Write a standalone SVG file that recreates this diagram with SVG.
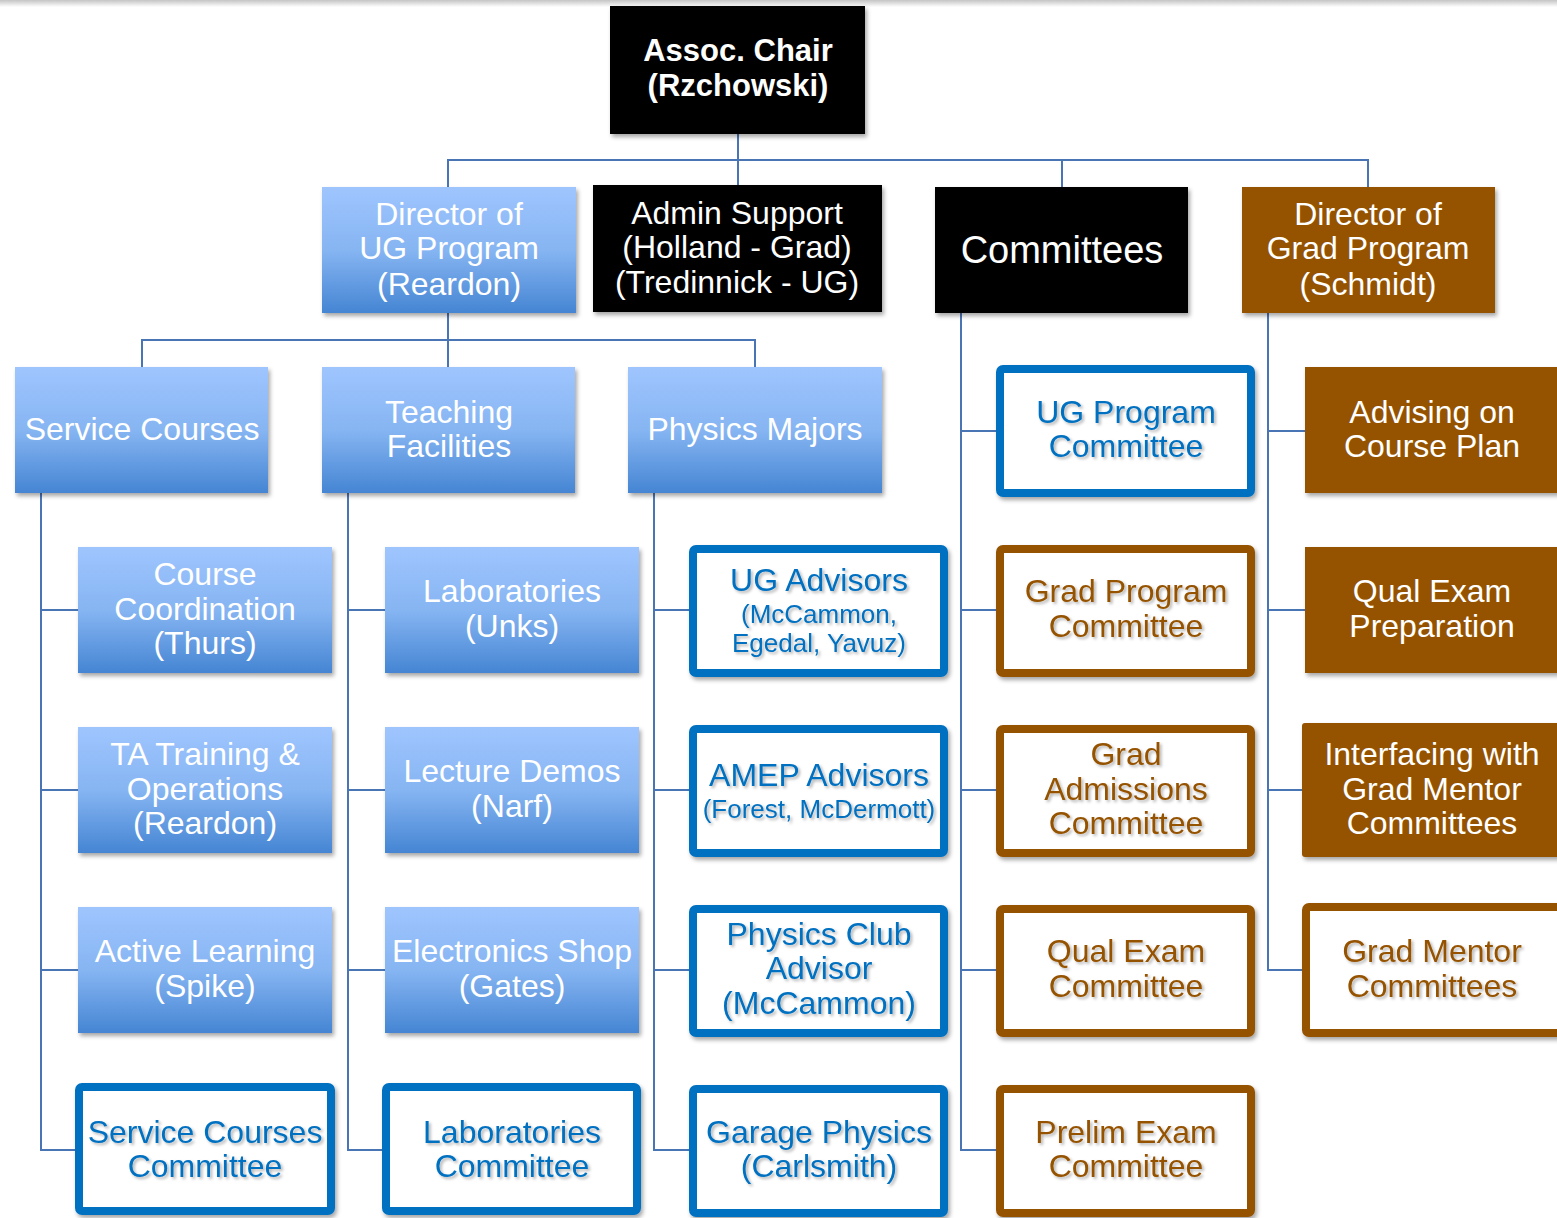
<svg xmlns="http://www.w3.org/2000/svg" width="1557" height="1218" viewBox="0 0 1557 1218">
<defs>
<linearGradient id="topband" x1="0" y1="0" x2="0" y2="1"><stop offset="0" stop-color="#c4c4c4"/><stop offset="1" stop-color="#ffffff"/></linearGradient>
<linearGradient id="blueg" x1="0" y1="0" x2="0" y2="1"><stop offset="0" stop-color="#9fc5fe"/><stop offset="0.5" stop-color="#86b5f2"/><stop offset="1" stop-color="#4585d3"/></linearGradient>
<filter id="sh" x="-10%" y="-10%" width="125%" height="130%"><feDropShadow dx="2" dy="3" stdDeviation="2" flood-color="#000" flood-opacity="0.35"/></filter>
<filter id="tsh" x="-10%" y="-20%" width="125%" height="150%"><feDropShadow dx="2" dy="2" stdDeviation="1.5" flood-color="#000" flood-opacity="0.3"/></filter>
</defs>
<style>
text{font-family:"Liberation Sans",Arial,sans-serif;font-size:32px;text-anchor:middle}
.w{fill:#ffffff}
.bold{font-weight:bold;font-size:31px}
.blk{fill:#000000}
.grad{fill:url(#blueg)}
.brn{fill:#955200}
.bb{fill:#ffffff;stroke:#0070c0;stroke-width:8}
.bn{fill:#ffffff;stroke:#955200;stroke-width:8}
.tb{fill:#0070c0}
.tn{fill:#955200}
.sm{font-size:26px}
.conn{fill:none;stroke:#4a75b5;stroke-width:2}
</style>
<rect x="0" y="0" width="1557" height="7" fill="url(#topband)"/>
<g id="connectors" class="conn">
<path d="M738 134V160M448 187V160H1368V187M738 160V185M1062 160V187"/>
<path d="M448 313V340M142 367V340H755V367M448 340V367"/>
<path d="M41 493V1150H78M41 610H78M41 790H78M41 970H78"/>
<path d="M348 493V1150H385M348 610H385M348 790H385M348 970H385"/>
<path d="M654 493V1150H690M654 610H690M654 790H690M654 970H690"/>
<path d="M961 313V1150H997M961 431H997M961 610H997M961 790H997M961 970H997"/>
<path d="M1268 313V970H1305M1268 431H1305M1268 610H1305M1268 790H1305"/>
</g>
<g id="assoc-chair"><rect x="610" y="6" width="255" height="128" class="blk" filter="url(#sh)"/><text class="w bold" x="738" y="61">Assoc. Chair</text><text class="w bold" x="738" y="96">(Rzchowski)</text></g>
<g id="dir-ug"><rect x="322" y="187" width="254" height="126" class="grad" filter="url(#sh)"/><text class="w" x="449" y="225">Director of</text><text class="w" x="449" y="259">UG Program</text><text class="w" x="449" y="295">(Reardon)</text></g>
<g id="admin"><rect x="593" y="185" width="289" height="127" class="blk" filter="url(#sh)"/><text class="w" x="737" y="224">Admin Support</text><text class="w" x="737" y="258">(Holland - Grad)</text><text class="w" x="737" y="293">(Tredinnick - UG)</text></g>
<g id="committees"><rect x="935" y="187" width="253" height="126" class="blk" filter="url(#sh)"/><text class="w" x="1062" y="263" style="font-size:38px">Committees</text></g>
<g id="dir-grad"><rect x="1242" y="187" width="253" height="126" class="brn" filter="url(#sh)"/><text class="w" x="1368" y="225">Director of</text><text class="w" x="1368" y="259">Grad Program</text><text class="w" x="1368" y="295">(Schmidt)</text></g>
<g id="service-courses"><rect x="15" y="367" width="253" height="126" class="grad" filter="url(#sh)"/><text class="w" x="142" y="440">Service Courses</text></g>
<g id="teaching-facilities"><rect x="322" y="367" width="253" height="126" class="grad" filter="url(#sh)"/><text class="w" x="449" y="423">Teaching</text><text class="w" x="449" y="457">Facilities</text></g>
<g id="physics-majors"><rect x="628" y="367" width="254" height="126" class="grad" filter="url(#sh)"/><text class="w" x="755" y="440">Physics Majors</text></g>
<g id="course-coord"><rect x="78" y="547" width="254" height="126" class="grad" filter="url(#sh)"/><text class="w" x="205" y="585">Course</text><text class="w" x="205" y="620">Coordination</text><text class="w" x="205" y="654">(Thurs)</text></g>
<g id="ta-training"><rect x="78" y="727" width="254" height="126" class="grad" filter="url(#sh)"/><text class="w" x="205" y="765">TA Training &amp;</text><text class="w" x="205" y="800">Operations</text><text class="w" x="205" y="834">(Reardon)</text></g>
<g id="active-learning"><rect x="78" y="907" width="254" height="126" class="grad" filter="url(#sh)"/><text class="w" x="205" y="962">Active Learning</text><text class="w" x="205" y="997">(Spike)</text></g>
<g id="service-courses-committee"><rect x="79" y="1087" width="252" height="124" rx="3" class="bb" filter="url(#sh)"/><g filter="url(#tsh)"><text class="tb" x="205" y="1143">Service Courses</text><text class="tb" x="205" y="1177">Committee</text></g></g>
<g id="laboratories"><rect x="385" y="547" width="254" height="126" class="grad" filter="url(#sh)"/><text class="w" x="512" y="602">Laboratories</text><text class="w" x="512" y="637">(Unks)</text></g>
<g id="lecture-demos"><rect x="385" y="727" width="254" height="126" class="grad" filter="url(#sh)"/><text class="w" x="512" y="782">Lecture Demos</text><text class="w" x="512" y="817">(Narf)</text></g>
<g id="electronics-shop"><rect x="385" y="907" width="254" height="126" class="grad" filter="url(#sh)"/><text class="w" x="512" y="962">Electronics Shop</text><text class="w" x="512" y="997">(Gates)</text></g>
<g id="laboratories-committee"><rect x="386" y="1087" width="251" height="124" rx="3" class="bb" filter="url(#sh)"/><g filter="url(#tsh)"><text class="tb" x="512" y="1143">Laboratories</text><text class="tb" x="512" y="1177">Committee</text></g></g>
<g id="ug-advisors"><rect x="693" y="549" width="251" height="124" rx="3" class="bb" filter="url(#sh)"/><g filter="url(#tsh)"><text class="tb" x="819" y="591">UG Advisors</text><text class="tb sm" x="819" y="623">(McCammon,</text><text class="tb sm" x="819" y="652">Egedal, Yavuz)</text></g></g>
<g id="amep-advisors"><rect x="693" y="729" width="251" height="124" rx="3" class="bb" filter="url(#sh)"/><g filter="url(#tsh)"><text class="tb" x="819" y="786">AMEP Advisors</text><text class="tb sm" x="819" y="818">(Forest, McDermott)</text></g></g>
<g id="physics-club"><rect x="693" y="909" width="251" height="124" rx="3" class="bb" filter="url(#sh)"/><g filter="url(#tsh)"><text class="tb" x="819" y="945">Physics Club</text><text class="tb" x="819" y="979">Advisor</text><text class="tb" x="819" y="1014">(McCammon)</text></g></g>
<g id="garage-physics"><rect x="693" y="1089" width="251" height="124" rx="3" class="bb" filter="url(#sh)"/><g filter="url(#tsh)"><text class="tb" x="819" y="1143">Garage Physics</text><text class="tb" x="819" y="1177">(Carlsmith)</text></g></g>
<g id="ug-program-committee"><rect x="1000" y="369" width="251" height="124" rx="3" class="bb" filter="url(#sh)"/><g filter="url(#tsh)"><text class="tb" x="1126" y="423">UG Program</text><text class="tb" x="1126" y="457">Committee</text></g></g>
<g id="grad-program-committee"><rect x="1000" y="549" width="251" height="124" rx="3" class="bn" filter="url(#sh)"/><g filter="url(#tsh)"><text class="tn" x="1126" y="602">Grad Program</text><text class="tn" x="1126" y="637">Committee</text></g></g>
<g id="grad-admissions-committee"><rect x="1000" y="729" width="251" height="124" rx="3" class="bn" filter="url(#sh)"/><g filter="url(#tsh)"><text class="tn" x="1126" y="765">Grad</text><text class="tn" x="1126" y="800">Admissions</text><text class="tn" x="1126" y="834">Committee</text></g></g>
<g id="qual-exam-committee"><rect x="1000" y="909" width="251" height="124" rx="3" class="bn" filter="url(#sh)"/><g filter="url(#tsh)"><text class="tn" x="1126" y="962">Qual Exam</text><text class="tn" x="1126" y="997">Committee</text></g></g>
<g id="prelim-exam-committee"><rect x="1000" y="1089" width="251" height="124" rx="3" class="bn" filter="url(#sh)"/><g filter="url(#tsh)"><text class="tn" x="1126" y="1143">Prelim Exam</text><text class="tn" x="1126" y="1177">Committee</text></g></g>
<g id="advising"><rect x="1305" y="367" width="256" height="126" class="brn" filter="url(#sh)"/><text class="w" x="1432" y="423">Advising on</text><text class="w" x="1432" y="457">Course Plan</text></g>
<g id="qual-prep"><rect x="1305" y="547" width="256" height="126" class="brn" filter="url(#sh)"/><text class="w" x="1432" y="602">Qual Exam</text><text class="w" x="1432" y="637">Preparation</text></g>
<g id="interfacing"><rect x="1302" y="723" width="259" height="134" rx="3" class="brn" filter="url(#sh)"/><text class="w" x="1432" y="765">Interfacing with</text><text class="w" x="1432" y="800">Grad Mentor</text><text class="w" x="1432" y="834">Committees</text></g>
<g id="grad-mentor-committees"><rect x="1306" y="907" width="257" height="126" rx="3" class="bn" filter="url(#sh)"/><g filter="url(#tsh)"><text class="tn" x="1432" y="962">Grad Mentor</text><text class="tn" x="1432" y="997">Committees</text></g></g>
</svg>
